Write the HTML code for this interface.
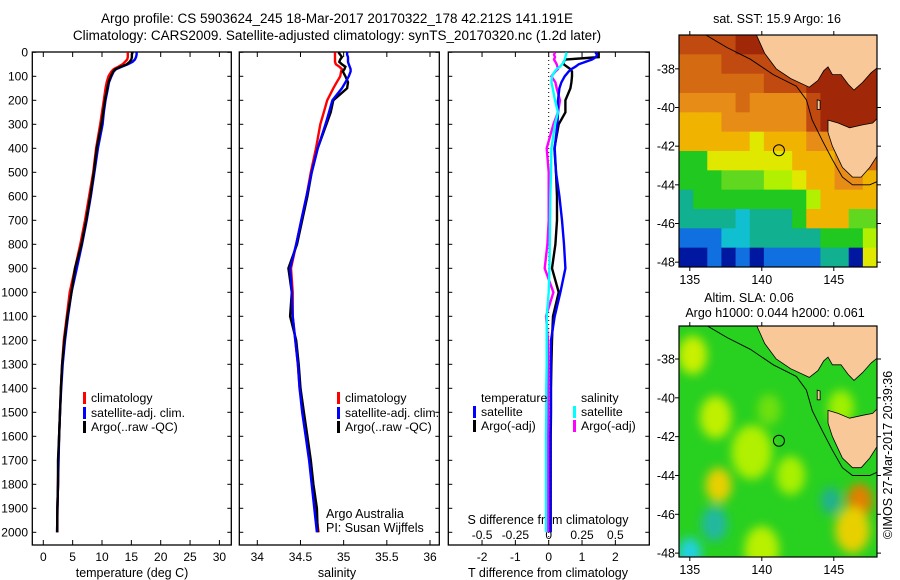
<!DOCTYPE html>
<html><head><meta charset="utf-8">
<style>
html,body{margin:0;padding:0;background:#fff;}
svg{display:block;font-family:"Liberation Sans",sans-serif;}
</style></head>
<body>
<svg id="fig" width="900" height="580" viewBox="0 0 900 580" xmlns="http://www.w3.org/2000/svg">
<defs>
  <clipPath id="cp1"><rect x="32.3" y="52" width="199" height="493"/></clipPath>
  <clipPath id="cp2"><rect x="239.3" y="52" width="200" height="493"/></clipPath>
  <clipPath id="cp3"><rect x="448.3" y="52" width="201" height="493"/></clipPath>
  <clipPath id="cpm1"><rect x="679" y="35" width="198" height="232"/></clipPath>
  <clipPath id="cpm2"><rect x="679" y="326" width="198" height="231"/></clipPath>
  <filter id="blur" x="-50%" y="-50%" width="200%" height="200%"><feGaussianBlur stdDeviation="5"/></filter>
</defs>
<g font-size="13.5" text-anchor="middle">
  <text x="337" y="23">Argo profile: CS 5903624_245 18-Mar-2017 20170322_178 42.212S 141.191E</text>
  <text x="337" y="40">Climatology: CARS2009. Satellite-adjusted climatology: synTS_20170320.nc (1.2d later)</text>
</g>
<g id="profiles"></g>
<g id="maps"></g>
</svg>
<script>
// ---- profile data ----
const depths = [0,10,20,30,40,50,60,70,80,100,125,150,200,250,300,400,500,600,700,800,900,1000,1100,1200,1300,1400,1500,1600,1700,1800,1900,2000];
const tempClim = [14.4,14.4,14.4,14.3,13.9,13.5,12.8,12.0,11.6,11.1,10.8,10.6,10.3,10.0,9.7,9.0,8.5,7.8,7.1,6.3,5.4,4.5,4.0,3.5,3.2,3.0,2.85,2.7,2.55,2.5,2.4,2.4];
const tempSat = [15.9,15.9,15.8,15.6,15.2,14.4,13.4,12.4,12.0,11.6,11.2,11.0,10.6,10.3,10.1,9.3,8.7,8.1,7.4,6.6,5.7,4.8,4.2,3.7,3.3,3.05,2.85,2.7,2.6,2.5,2.4,2.35];
const tempArgo = [15.2,15.1,15.1,15.0,14.7,14.2,13.2,12.3,11.9,11.5,11.1,10.9,10.5,10.2,9.9,9.1,8.6,8.0,7.3,6.5,5.4,4.8,4.1,3.6,3.2,3.0,2.85,2.7,2.5,2.5,2.4,2.35];
const salClim = [34.90,34.90,34.90,34.90,34.90,34.91,34.95,34.98,34.97,34.96,34.92,34.88,34.81,34.77,34.73,34.68,34.62,34.57,34.51,34.45,34.39,34.41,34.41,34.44,34.47,34.49,34.53,34.57,34.61,34.64,34.67,34.71];
const salSat = [35.04,35.04,35.05,35.05,35.05,35.06,35.07,35.08,35.08,35.06,35.02,34.98,34.87,34.83,34.79,34.70,34.63,34.57,34.51,34.45,34.38,34.40,34.41,34.44,34.47,34.49,34.52,34.56,34.60,34.63,34.66,34.69];
const salArgo = [34.94,34.96,34.98,34.96,34.95,34.98,35.02,35.01,34.99,35.02,35.05,35.04,34.88,34.85,34.80,34.70,34.63,34.58,34.52,34.46,34.36,34.40,34.38,34.45,34.48,34.50,34.54,34.58,34.62,34.65,34.69,34.70];
const tDiffSat = [1.4,1.45,1.42,1.3,1.1,0.9,0.8,0.68,0.6,0.48,0.38,0.32,0.28,0.28,0.26,0.18,0.22,0.32,0.4,0.46,0.5,0.35,0.18,0.07,0.06,0.06,0.06,0.05,0.05,0.05,0.05,0.05];
const tDiffArgo = [1.5,1.5,1.5,0.5,0.45,0.45,0.55,0.65,0.7,0.7,0.68,0.65,0.5,0.5,0.3,0.17,0.22,0.25,0.25,0.2,0.1,0.3,0.13,0.1,0.08,0.07,0.07,0.06,0.06,0.06,0.06,0.06];
const sDiffSat = [0.135,0.13,0.125,0.12,0.115,0.1,0.085,0.06,0.045,0.025,0.02,0.03,0.047,0.07,0.047,0.02,0.017,0.012,0.01,0.008,0.005,0.0,-0.015,-0.015,-0.015,-0.018,-0.018,-0.02,-0.02,-0.02,-0.02,-0.02];
const sDiffArgo = [0.047,0.04,0.047,0.04,0.05,0.06,0.065,0.07,0.05,0.02,0.05,0.06,0.085,0.07,0.035,-0.015,0.0,0.0,0.0,-0.01,-0.03,0.035,-0.02,-0.005,-0.005,-0.005,-0.005,-0.005,-0.005,-0.005,-0.005,-0.005];
const depthTicks = [0,100,200,300,400,500,600,700,800,900,1000,1100,1200,1300,1400,1500,1600,1700,1800,1900,2000];
const tempTicks = [0,5,10,15,20,25,30];
const salTicks = [34,34.5,35,35.5,36];
const salTickLabels = ["34","34.5","35","35.5","36"];
const tDiffTicks = [-2,-1,0,1,2];
const sDiffTicks = [-0.5,-0.25,0,0.25,0.5];
const sDiffTickLabels = ["-0.5","-0.25","0","0.25","0.5"];

const NS = "http://www.w3.org/2000/svg";
function mk(tag, attrs, parent, txt){
  const e = document.createElementNS(NS, tag);
  for (const k in attrs) if (attrs[k] !== null) e.setAttribute(k, attrs[k]);
  if (txt !== undefined) e.textContent = txt;
  parent.appendChild(e);
  return e;
}
const yD = d => 52.3 + 0.24*d;
const xT = t => 43.3 + 5.87*t;
const xS = s => 257.3 + 86.35*(s-34);
const xTd = t => 548.7 + 33.33*t;
const xSd = s => 548.7 + 133.3*s;

const prof = document.getElementById('profiles');
const panels = [
  {x0:32.3,x1:231.3,cp:'cp1',name:'temperature-panel'},
  {x0:239.3,x1:439.3,cp:'cp2',name:'salinity-panel'},
  {x0:448.3,x1:649.3,cp:'cp3',name:'difference-panel'}
];
panels.forEach((p,i)=>{
  const g = mk('g',{},prof);
  
  
  const fr = mk('rect',{x:p.x0,y:52,width:p.x1-p.x0,height:493,fill:'none',stroke:'#000','stroke-width':1.3},g);
  
  
  depthTicks.forEach(d=>{
    const t1 = mk('line',{x1:p.x0,x2:p.x0+4,y1:yD(d),y2:yD(d),stroke:'#000'},g);
    
    
    const t2 = mk('line',{x1:p.x1-4,x2:p.x1,y1:yD(d),y2:yD(d),stroke:'#000'},g);
    
    
  });
});
const dl = mk('g',{'font-size':12,'text-anchor':'end'},prof);


depthTicks.forEach(d=>{
  const t = mk('text',{x:28,y:yD(d)+4},dl,String(d));
  
  
});
function xAxis(ticks, labels, fx, y, name, tickTopBottom){
  const g = mk('g',{'font-size':12,'text-anchor':'middle'},prof);
  
  
  ticks.forEach((v,i)=>{
    if (tickTopBottom){
      const a = mk('line',{x1:fx(v),x2:fx(v),y1:545,y2:540,stroke:'#000'},g);
      
      
      const b = mk('line',{x1:fx(v),x2:fx(v),y1:52,y2:57,stroke:'#000'},g);
      
      
    }
    const t = mk('text',{x:fx(v),y:y},g,labels[i]);
    
    
  });
}
xAxis(tempTicks, tempTicks.map(String), xT, 561, 'temperature-x-axis', true);
xAxis(salTicks, salTickLabels, xS, 561, 'salinity-x-axis', true);
xAxis(tDiffTicks, tDiffTicks.map(String), xTd, 561, 'tdiff-x-axis', true);
xAxis(sDiffTicks, sDiffTickLabels, xSd, 539, 'sdiff-x-axis', false);

function axTitle(x,y,txt,name){
  const t = mk('text',{x:x,y:y,'font-size':12.5,'text-anchor':'middle'},prof,txt);
  
  
}
axTitle(132,577,'temperature (deg C)','temperature-axis-title');
axTitle(337,577,'salinity','salinity-axis-title');
axTitle(548,577,'T difference from climatology','tdiff-axis-title');
axTitle(548,524,'S difference from climatology','sdiff-axis-title');

const zl = mk('line',{x1:xTd(0),x2:xTd(0),y1:52,y2:545,stroke:'#000','stroke-dasharray':'1,3','stroke-width':1},prof);



function series(vals, fx, color, cp, name){
  const pts = vals.map((v,i)=>fx(v).toFixed(1)+','+yD(depths[i]).toFixed(1)).join(' ');
  const pl = mk('polyline',{points:pts,fill:'none',stroke:color,'stroke-width':2.4,'clip-path':'url(#'+cp+')','stroke-linejoin':'miter'},prof);
  
  
}
series(tempClim, xT, '#f00', 'cp1', 'temp-climatology-line');
series(tempSat, xT, '#00f', 'cp1', 'temp-satellite-line');
series(tempArgo, xT, '#000', 'cp1', 'temp-argo-line');
series(salClim, xS, '#f00', 'cp2', 'sal-climatology-line');
series(salArgo, xS, '#000', 'cp2', 'sal-argo-line');
series(salSat, xS, '#00f', 'cp2', 'sal-satellite-line');
series(sDiffArgo, xSd, '#f0f', 'cp3', 'sdiff-argo-line');
series(tDiffArgo, xTd, '#000', 'cp3', 'tdiff-argo-line');
series(tDiffSat, xTd, '#00f', 'cp3', 'tdiff-satellite-line');
series(sDiffSat, xSd, '#0ff', 'cp3', 'sdiff-satellite-line');

function legendEntry(x,y,color,txt,len){
  const g = mk('g',{},prof);
  
  
  if (color) mk('rect',{x:x,y:y-10,width:3,height:12,fill:color},g);
  mk('text',{x:x+8,y:y,'font-size':12.3,'textLength':len||null,'lengthAdjust':len?'spacingAndGlyphs':null},g,txt);
}
legendEntry(83,402,'#f00','climatology');
legendEntry(83,417,'#00f','satellite-adj. clim.',94);
legendEntry(83,431,'#000','Argo(..raw -QC)');
legendEntry(337,402,'#f00','climatology');
legendEntry(337,417,'#00f','satellite-adj. clim.',94);
legendEntry(337,431,'#000','Argo(..raw -QC)');
legendEntry(473,402,null,'temperature');
legendEntry(473,416,'#00f','satellite');
legendEntry(473,430,'#000','Argo(-adj)');
legendEntry(573,402,null,'salinity');
legendEntry(573,416,'#0ff','satellite');
legendEntry(573,430,'#f0f','Argo(-adj)');
const cr = mk('text',{x:326,y:518,'font-size':12.5},prof,'Argo Australia');


const pi = mk('text',{x:326,y:532,'font-size':12.5},prof,'PI: Susan Wijffels');



// ---- maps ----
const maps = document.getElementById('maps');
const lonTicks = [135,140,145];
const latTicks = [-38,-40,-42,-44,-46,-48];
const sstRows = [
 "BBBBRRBBBBBBBB",
 "OOOBBBBBBRRRRR",
 "OOOOOOBBBRRRRR",
 "ooooOooooBRRRR",
 "YYYooooooBRRRR",
 "YYYYYyYYYooOOO",
 "GGyyyyyyYYYoOO",
 "GGGgggllyYYooY",
 "TGGGGGGGGlYYYY",
 "TTTTCTTTGYYYgg",
 "bbbCCTTTTTGGGl",
 "DDbDbDbbbbTTDy"];
const pal = {R:'#a02808',B:'#c04a10',O:'#d46a12',o:'#e88c18',Y:'#f0b400',y:'#e0e800',l:'#b0f000',G:'#20c820',g:'#60d820',T:'#10b090',C:'#10c0d0',b:'#1070e0',D:'#0018a0'};
const vicCoast = [[139.6,-36.2],[140.2,-37.2],[141,-38.0],[142,-38.5],[143.3,-38.95],[143.9,-38.6],[144.3,-38.1],[144.6,-37.9],[144.9,-38.3],[145.5,-38.3],[146,-38.8],[146.4,-39.1],[147,-38.7],[147.6,-38.2],[148.1,-37.9],[148.1,-36.2]];
const tasCoast = [[144.6,-40.65],[145.3,-40.8],[146.1,-41.05],[147,-40.9],[147.7,-40.8],[148.1,-40.5],[148.1,-42.4],[147.5,-43.1],[146.9,-43.6],[146.3,-43.6],[145.6,-43.1],[144.9,-42.0],[144.6,-41.3]];
const kingIsland = [[143.85,-39.6],[144.05,-39.65],[144.05,-40.1],[143.85,-40.1]];
const contour = [[136,-36.2],[137.6,-36.9],[139.2,-37.5],[140.8,-38.3],[142.4,-38.9],[143.1,-39.6],[143.5,-40.65],[144.2,-41.7],[144.9,-42.7],[145.6,-43.6],[146.3,-44.0],[147.5,-44.0],[148.1,-43.8]];
const argoPos = [141.19,-42.21];
const slaBlobs = [[135.2,-37.8,'#c8f000',1.0],[136.8,-41,'#c0f000',1.1],[137,-44.5,'#e8d000',0.9],[139.3,-42.7,'#e8b000',0.8],[139.3,-42.8,'#b0f000',1.4],[146.8,-45.3,'#e08000',0.9],[146.3,-46.8,'#e8d000',1.2],[140,-47.8,'#b8f000',1.2],[136.7,-46.5,'#20b8a0',0.9],[135,-48,'#20d0e0',0.8],[144.8,-45.3,'#20b090',0.7],[142,-44,'#a8f000',1.0],[145.5,-40.5,'#a0f000',0.9],[140.5,-40.6,'#70e010',0.8]];

function drawMap(x0,x1,yTop,yBot,latTop,latBot,cp,name,isSST){
  const lonL=134.25, lonR=148.0;
  const px = lon => x0 + (lon-lonL)/(lonR-lonL)*(x1-x0);
  const py = lat => yTop + (latTop-lat)/(latTop-latBot)*(yBot-yTop);
  const g = mk('g',{},maps);
  
  
  const inner = mk('g',{'clip-path':'url(#'+cp+')'},g);
  if (isSST){
    const nr=sstRows.length, nc=sstRows[0].length;
    const cw=(x1-x0)/nc, ch=(yBot-yTop)/nr;
    sstRows.forEach((row,r)=>{
      for(let c=0;c<nc;c++){
        const cell = mk('rect',{x:x0+c*cw,y:yTop+r*ch,width:cw+0.6,height:ch+0.6,fill:pal[row[c]]},inner);
        
        
      }
    });
  } else {
    mk('rect',{x:x0,y:yTop,width:x1-x0,height:yBot-yTop,fill:'#28d020'},inner);
    const bg = mk('g',{filter:'url(#blur)'},inner);
    slaBlobs.forEach(b=>{
      const e = mk('ellipse',{cx:px(b[0]),cy:py(b[1]),rx:b[3]*14.4,ry:b[3]*19.3,fill:b[2]},bg);
      
      
    });
  }
  const poly = arr => arr.map(p=>px(p[0]).toFixed(1)+','+py(p[1]).toFixed(1)).join(' ');
  [vicCoast,tasCoast,kingIsland].forEach((c,i)=>{
    const l = mk('polygon',{points:poly(c),fill:'#f8c898',stroke:'#000','stroke-width':0.8},inner);
    
    
  });
  const ct = mk('polyline',{points:poly(contour),fill:'none',stroke:'#000','stroke-width':0.9},inner);
  
  
  const ci = mk('circle',{cx:px(argoPos[0]),cy:py(argoPos[1]),r:5.5,fill:'none',stroke:'#000','stroke-width':1},inner);
  
  
  const fr = mk('rect',{x:x0,y:yTop,width:x1-x0,height:yBot-yTop,fill:'none',stroke:'#000','stroke-width':1.2},g);
  
  
  lonTicks.forEach(l=>{
    mk('line',{x1:px(l),x2:px(l),y1:yTop,y2:yTop-4,stroke:'#000'},g);
    mk('line',{x1:px(l),x2:px(l),y1:yBot,y2:yBot+4,stroke:'#000'},g);
    const t = mk('text',{x:px(l),y:yBot+17,'font-size':12.5,'text-anchor':'middle'},g,String(l));
    
    
  });
  latTicks.forEach(l=>{
    mk('line',{x1:x0,x2:x0-4,y1:py(l),y2:py(l),stroke:'#000'},g);
    mk('line',{x1:x1,x2:x1+4,y1:py(l),y2:py(l),stroke:'#000'},g);
    const t = mk('text',{x:x0-4,y:py(l)+4.5,'font-size':12.5,'text-anchor':'end'},g,String(l));
    
    
  });
}
drawMap(679,877,35,267,-36.25,-48.25,'cpm1','sst-map',true);
drawMap(679,877,326,557,-36.3,-48.2,'cpm2','sla-map',false);

const t1 = mk('text',{x:777,y:23,'font-size':12.5,'text-anchor':'middle'},maps,'sat. SST: 15.9 Argo: 16');


const t2 = mk('text',{x:749,y:302,'font-size':12.5,'text-anchor':'middle'},maps,'Altim. SLA: 0.06');


const t3 = mk('text',{x:775,y:317,'font-size':12.5,'text-anchor':'middle'},maps,'Argo h1000: 0.044 h2000: 0.061');


const t4 = mk('text',{x:0,y:0,'font-size':12.5,'text-anchor':'middle',transform:'translate(892,455) rotate(-90)'},maps,'©IMOS 27-Mar-2017 20:39:36');


</script>
</body></html>
